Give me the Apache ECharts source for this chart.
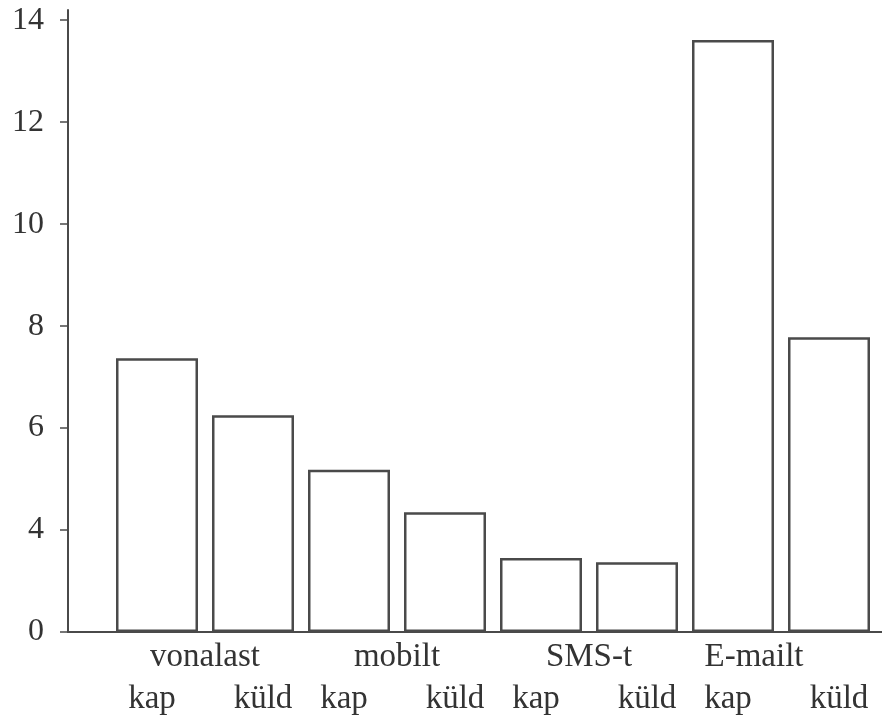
<!DOCTYPE html>
<html>
<head>
<meta charset="utf-8">
<script src="https://cdn.jsdelivr.net/npm/echarts@6/dist/echarts.min.js"></script>
<style>
  html, body { margin: 0; padding: 0; background: #fff; }
  #chart { width: 882px; height: 717px; }
</style>
</head>
<body>
<div id="chart"></div>
<script>
// categories
const barLabels = ['kap', 'küld', 'kap', 'küld', 'kap', 'küld', 'kap', 'küld']
const groupLabels = ['vonalast', 'mobilt', 'SMS-t', 'E-mailt']
// values
const values = [7.37, 6.25, 5.18, 4.35, 3.45, 3.37, 13.61, 7.78]
// y ticks shown on the axis
const yTicks = [2, 4, 6, 8, 10, 12, 14]

const ink = '#4a4a4a'
const font = 'Liberation Serif'

const chart = echarts.init(document.getElementById('chart'))

const yMin = 2
const yMax = 14.2

const labelBase = {
  color: '#333',
  fontFamily: font,
  fontSize: 33,
}

chart.setOption({
  animation: false,
  backgroundColor: '#fff',
  grid: [
    { left: 68, right: 0, top: 10, bottom: 85 },
    { left: 109, right: 5, top: 10, bottom: 85 },
  ],
  xAxis: [
    {
      gridIndex: 0,
      type: 'value',
      min: 0,
      max: 1,
      axisLine: { show: true, lineStyle: { color: ink, width: 2 } },
      axisTick: { show: false },
      axisLabel: { show: false },
      splitLine: { show: false },
    },
    {
      gridIndex: 1,
      type: 'category',
      position: 'bottom',
      data: barLabels,
      axisLine: { show: false },
      axisTick: { show: false },
      axisLabel: {
        interval: 0,
        margin: 51,
        ...labelBase,
        // kap sits a bit left of its bar, küld a bit right
        formatter: (v) => (v === 'kap' ? '{k|' + v + '}' : '{d|' + v + '}'),
        rich: {
          k: { ...labelBase, padding: [0, 10, 0, 0] },
          d: { ...labelBase, padding: [0, 0, 0, 20] },
        },
      },
    },
    {
      gridIndex: 1,
      type: 'category',
      position: 'bottom',
      data: groupLabels,
      axisLine: { show: false },
      axisTick: { show: false },
      axisLabel: {
        interval: 0,
        margin: 9,
        ...labelBase,
        formatter: (v) => (v === 'E-mailt' ? '{e|' + v + '}' : v),
        rich: {
          e: { ...labelBase, padding: [0, 54, 0, 0] },
        },
      },
    },
  ],
  yAxis: [
    {
      gridIndex: 0,
      type: 'value',
      min: yMin,
      max: yMax,
      axisLine: { show: true, lineStyle: { color: ink, width: 2 } },
      axisTick: {
        show: true,
        length: 8,
        customValues: yTicks,
        lineStyle: { color: ink, width: 1.5 },
      },
      axisLabel: {
        margin: 24,
        color: '#333',
        fontFamily: font,
        fontSize: 32,
        customValues: yTicks,
        // bottom of the axis is labelled 0 in the original
        formatter: (v) => (v === yMin ? '0' : String(v)),
      },
      splitLine: { show: false },
    },
    {
      gridIndex: 1,
      type: 'value',
      min: yMin,
      max: yMax,
      startValue: yMin,
      show: false,
      splitLine: { show: false },
    },
  ],
  series: [
    {
      type: 'bar',
      xAxisIndex: 1,
      yAxisIndex: 1,
      data: values,
      barWidth: 82,
      itemStyle: {
        color: '#fff',
        borderColor: ink,
        borderWidth: 2.5,
      },
    },
  ],
})
</script>
</body>
</html>
